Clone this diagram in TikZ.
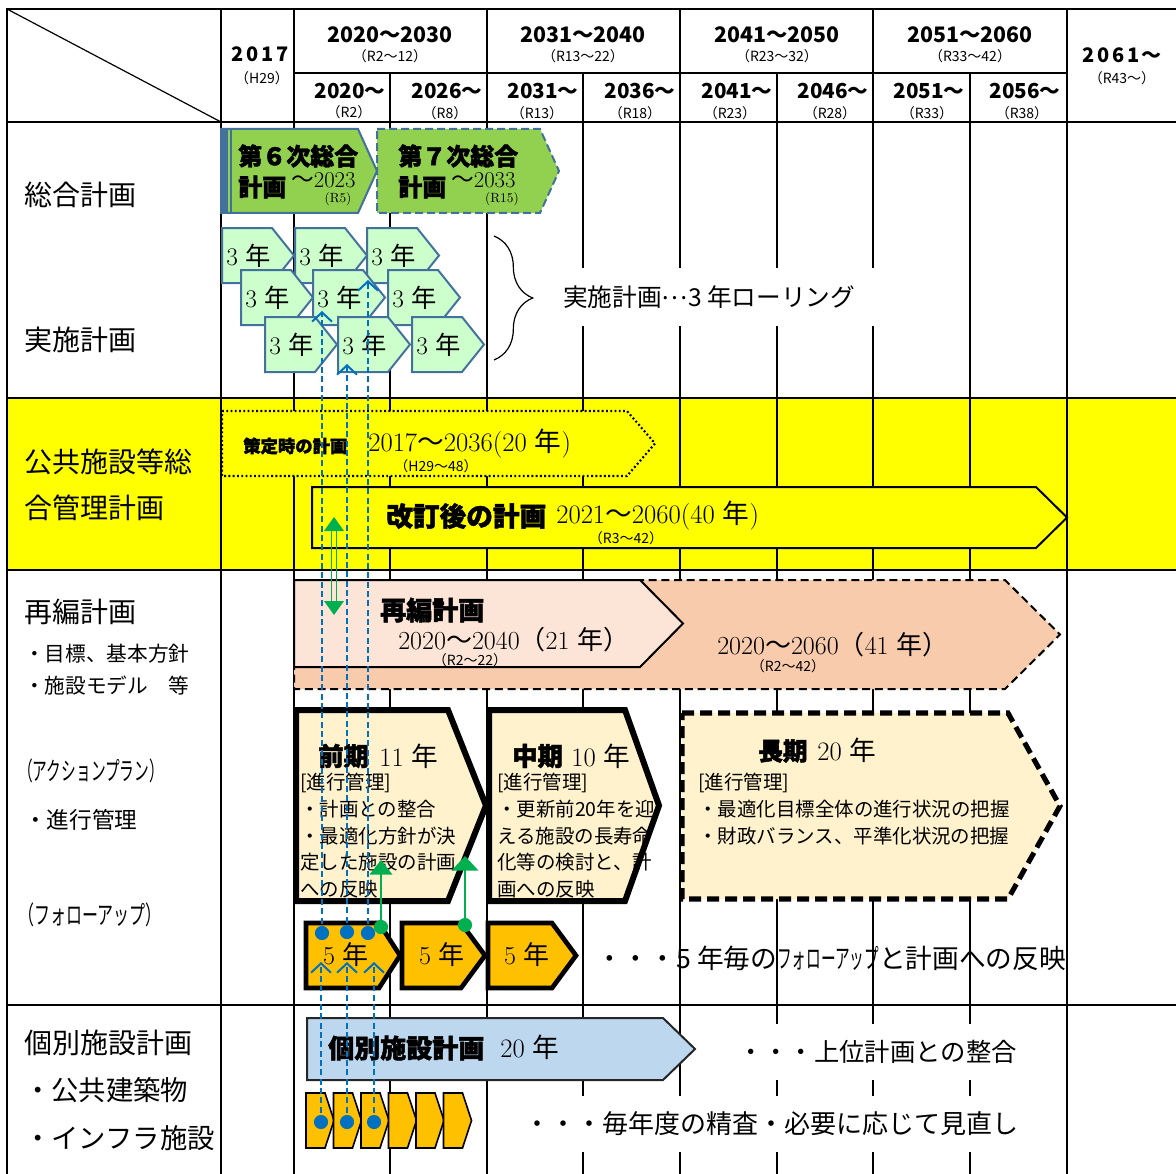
\documentclass[tikz,border=0pt]{standalone}
\usepackage{fontspec}
\usepackage{graphicx}
\newfontfamily\jp{Noto Sans CJK JP}
\newfontfamily\jph{Noto Sans CJK JP}[FakeBold=1.8]
\usetikzlibrary{arrows.meta,decorations.pathreplacing}
\definecolor{gfill}{HTML}{92D050}
\definecolor{bline}{HTML}{41719C}
\definecolor{lgreen}{HTML}{CCFFCC}
\definecolor{ylw}{HTML}{FFFF00}
\definecolor{peach}{HTML}{F8CBAD}
\definecolor{lpeach}{HTML}{FCE4D6}
\definecolor{cream}{HTML}{FFF2CC}
\definecolor{orng}{HTML}{FFC000}
\definecolor{lblue}{HTML}{BDD7EE}
\definecolor{dblue}{HTML}{0070C0}
\definecolor{grn}{HTML}{00B050}
\newcommand\fsz[2]{\fontsize{#1pt}{#2pt}\selectfont}
\newcommand\penta[6]{\path[#1] (#2,#3) -- (#4,#3) -- (#5,{(#3+#6)/2}) -- (#4,#6) -- (#2,#6) -- cycle;}
\newcommand\nen{{\jp 年}}
\newcommand\nami{{\jp ～}}
\tikzset{
  grid/.style={line width=1.5pt},
  thk/.style={line width=2.2pt},
  lbl/.style={anchor=west, inner sep=0pt, font=\jp\fsz{#1}{#1}},
  hb/.style={inner sep=0pt, font=\jp\bfseries\fsz{#1}{#1}},
  hs/.style={inner sep=0pt, font=\jp\fsz{10.5}{10.5}},
  hv/.style={anchor=west, inner sep=0pt, font=\jph\bfseries\fsz{#1}{#1}},
  sr/.style={anchor=west, inner sep=0pt, font=\fsz{#1}{#1}},
  sm/.style={inner sep=0pt, font=\fsz{#1}{#1}},
  body/.style={anchor=north west, inner sep=0pt, align=left, font=\jp\fsz{14.6}{20}},
  bdash/.style={dblue, line width=1.5pt, dash pattern=on 4.5pt off 2.5pt, -{Straight Barb[length=7pt,width=15pt,line width=1.5pt]}},
  garr/.style={grn, line width=1.5pt, -{Triangle[length=11pt,width=#1]}},
}
\begin{document}
\begin{tikzpicture}[x=0.75pt,y=-0.75pt]
\useasboundingbox (0,0) rectangle (1176,1173);
\clip (0,0) rectangle (1176,1173);
\fill[white] (0,0) rectangle (1176,1173);
\fill[ylw] (7,398) rectangle (1180,570);
% ---------- grid ----------
\foreach \x in {221,294,487,680,873,1067} \draw[grid] (\x,9) -- (\x,1180);
\foreach \x in {390,583,777,970} \draw[grid] (\x,73) -- (\x,1180);
\draw[grid] (7,9) -- (1180,9);
\draw[grid] (294,73) -- (1067,73);
\draw[grid] (7,122) -- (1180,122);
\draw[thk] (7,398) -- (1180,398);
\draw[thk] (7,570) -- (1180,570);
\draw[grid] (7,1005) -- (1180,1005);
\draw[thk] (7,8) -- (7,1180);
\draw[line width=0.9pt] (7,9) -- (221,122);
% ---------- header ----------
\node[hb=15] (y2017) at (260,54) {2\hspace{2pt}0\hspace{2pt}1\hspace{2pt}7};
\node[hs] (r2017) at (262,78) {（H29）};
\node[hb=16] (p1) at (390,35) {2020～2030};
\node[hs] (p1r) at (390,56) {（R2～12）};
\node[hb=15.5] (s1) at (350,91) {2020～};
\node[hs] (s1r) at (349,112) {（R2）};
\node[hb=15.5] (s2) at (447,91) {2026～};
\node[hs] (s2r) at (445,113) {（R8）};
\node[hb=16] (p2) at (583,35) {2031～2040};
\node[hs] (p2r) at (583,56) {（R13～22）};
\node[hb=15.5] (s3) at (543,91) {2031～};
\node[hs] (s3r) at (537,113) {（R13）};
\node[hb=15.5] (s4) at (640,91) {2036～};
\node[hs] (s4r) at (635,113) {（R18）};
\node[hb=16] (p3) at (777,35) {2041～2050};
\node[hs] (p3r) at (777,56) {（R23～32）};
\node[hb=15.5] (s5) at (737,91) {2041～};
\node[hs] (s5r) at (730,113) {（R23）};
\node[hb=15.5] (s6) at (833,91) {2046～};
\node[hs] (s6r) at (830,113) {（R28）};
\node[hb=16] (p4) at (970,35) {2051～2060};
\node[hs] (p4r) at (970,56) {（R33～42）};
\node[hb=15.5] (s7) at (929,91) {2051～};
\node[hs] (s7r) at (927,113) {（R33）};
\node[hb=15.5] (s8) at (1025,91) {2056～};
\node[hs] (s8r) at (1022,113) {（R38）};
\node[hb=15] (p5) at (1122,55) {2\hspace{2pt}0\hspace{2pt}6\hspace{2pt}1\hspace{1pt}～};
\node[hs] (p5r) at (1122,78) {（R43～）};
% ---------- left labels ----------
\node[lbl=21] (l1) at (24,195) {総合計画};
\node[lbl=21] (l2) at (24,340) {実施計画};
\node[lbl=21] (l3) at (24,462) {公共施設等総};
\node[lbl=21] (l4) at (24,508) {合管理計画};
\node[lbl=21] (l5) at (24,612) {再編計画};
\node[lbl=15.5] (l6) at (24,654) {・目標、基本方針};
\node[lbl=15.5] (l7) at (24,686) {・施設モデル　等};
\node[lbl=19] (l8) at (18,771) {\scalebox{0.58}[1]{（アクションプラン）}};
\node[lbl=17] (l9) at (24,820) {・進行管理};
\node[lbl=19] (l10) at (18,915) {\scalebox{0.63}[1]{（フォローアップ）}};
\node[lbl=21] (l11) at (24,1043) {個別施設計画};
\node[lbl=20.5] (l12) at (24,1090) {・公共建築物};
\node[lbl=20.5] (l13) at (24,1138) {・インフラ施設};
% ---------- 総合計画 ----------
\penta{fill=gfill, draw=bline, line width=1.5pt}{221}{129}{358}{377}{213}
\fill[bline] (221,129) rectangle (228,213);
\draw[bline, line width=1.5pt] (231,129) -- (231,213);
\penta{fill=gfill, draw=bline, line width=1.5pt, dash pattern=on 6pt off 3pt}{377}{129}{540}{559}{213}
\node[hv=18] (g6a) at (238,156) {第６次総合};
\node[hv=18] (g6b) at (238,187) {計画};
\node[sr=17] (g6c) at (291,180) {\nami 2023};
\node[sm=10] (g6d) at (338,199) {(R5)};
\node[hv=18] (g7a) at (398,156) {第７次総合};
\node[hv=18] (g7b) at (398,187) {計画};
\node[sr=17] (g7c) at (451,180) {\nami 2033};
\node[sm=10] (g7d) at (502,199) {(R15)};
% 3-year rolling
\foreach \xa/\ya in {222/228, 295/228, 367/228, 241/270, 313/270, 388/270, 265/317, 338/317, 412/317} {
  \penta{fill=lgreen, draw=bline, line width=1.5pt}{\xa}{\ya}{\xa+50}{\xa+72}{\ya+55}
  \node[sr=19] (t\xa) at (\xa+4,\ya+28) {3 \nen};
}
\draw[line width=0.9pt, decorate, decoration={brace, amplitude=29pt}] (494,236) -- (494,360);
\fill[white] (553,268) rectangle (882,326);
\node[lbl=18.5] (roll) at (563,297) {実施計画\raisebox{0.3em}{…}3 年ローリング};
% ---------- 公共施設等総合管理計画 ----------
\penta{fill=ylw, draw=black, line width=1.6pt, dash pattern=on 1.4pt off 1.8pt}{222}{411}{627}{655}{476}
\node[hv=13] (sak) at (243,446) {策定時の計画};
\node[sr=20] (saky) at (368,444) {2017\nami 2036(20 \nen)};
\node[hs] (sakr) at (436,466) {（H29～48）};
\penta{fill=ylw, draw=black, line width=1.5pt}{312}{487}{1036}{1067}{548}
\node[hv=20] (kai) at (386,516) {改訂後の計画};
\node[sr=20] (kaiy) at (556,516) {2021\nami 2060(40 \nen)};
\node[hs] (kair) at (626,538) {（R3～42）};
% ---------- 再編計画 ----------
\penta{fill=peach, draw=black, line width=1.5pt, dash pattern=on 6pt off 3.5pt}{294}{580}{1005}{1060}{689}
\penta{fill=lpeach, draw=black, line width=1.5pt}{294}{580}{640}{683}{667}
\node[hv=19.5] (sai) at (380,610) {再編計画};
\node[sr=19.5] (saiy) at (398,640) {2020\nami 2040{\jp（}21 \nen{\jp ）}};
\node[hs] (sair) at (470,660) {（R2～22）};
\node[sr=19.5] (saiy2) at (717,645) {2020\nami 2060{\jp（}41 \nen{\jp ）}};
\node[hs] (sair2) at (788,666) {（R2～42）};
% 前期・中期・長期
\penta{fill=cream, draw=black, line width=4.5pt, line join=miter}{296}{710}{448}{486}{901}
\penta{fill=cream, draw=black, line width=4.5pt, line join=miter}{489}{710}{625}{659}{901}
\penta{fill=cream, draw=black, line width=3.8pt, dash pattern=on 9pt off 4.5pt}{682}{713}{1008}{1060}{899}
\node[hv=19] (zen) at (318,756) {前期};
\node[sr=20] (zeny) at (379,756) {11 \nen};
\node[body] (zenb) at (300,773) {[進行管理]\\・計画との整合\\・最適化方針が決\\定した施設の計画\\への反映};
\node[hv=19] (chu) at (512,756) {中期};
\node[sr=20] (chuy) at (571,756) {10 \nen};
\node[body] (chub) at (497,773) {[進行管理]\\・更新前20年を迎\\える施設の長寿命\\化等の検討と、計\\画への反映};
\node[hv=18.5] (cho) at (758,751) {長期};
\node[sr=20] (choy) at (817,750) {20 \nen};
\node[body] (chob) at (698,773) {[進行管理]\\・最適化目標全体の進行状況の把握\\・財政バランス、平準化状況の把握};
% 5年 follow-up
\penta{fill=orng, draw=black, line width=3.5pt, line join=miter}{306}{923}{379}{400}{988}
\penta{fill=orng, draw=black, line width=3.5pt, line join=miter}{402}{923}{461}{485}{988}
\penta{fill=orng, draw=black, line width=3.5pt, line join=miter}{488}{923}{552}{576}{988}
\node[sm=19.5] (f1) at (346,955) {5 \nen};
\node[sm=19.5] (f2) at (442,955) {5 \nen};
\node[sm=19.5] (f3) at (527,955) {5 \nen};
\node[lbl=20] (fol) at (596,958) {・・・5 年毎の\scalebox{0.55}[1]{フォローアップ}と計画への反映};
% ---------- 個別施設計画 ----------
\penta{fill=lblue, draw=black!85, line width=1.5pt}{307}{1018}{663}{695}{1080}
\node[hv=19.5] (kob) at (328,1048) {個別施設計画};
\node[sr=20] (koby) at (500,1047) {20 \nen};
\fill[white] (712,1024) rectangle (1045,1080);
\node[lbl=19] (joi) at (738,1052) {・・・上位計画との整合};
\foreach \i in {0,...,5} {
  \penta{fill=orng, draw=black, line width=1.2pt}{306+27.5*\i}{1093}{306+27.5*\i+19}{306+27.5*\i+28}{1148}
}
\fill[white] (500,1096) rectangle (1045,1152);
\node[lbl=19.5] (mai) at (524,1124) {・・・毎年度の精査・必要に応じて見直し};
% ---------- connectors ----------
\coordinate (ud1) at (322,933); \coordinate (ut1) at (322,311);
\coordinate (ud2) at (347,932); \coordinate (ut2) at (347,364);
\coordinate (ud3) at (368,933); \coordinate (ut3) at (368,280);
\coordinate (ld1) at (321,1122); \coordinate (lt1) at (321,962);
\coordinate (ld2) at (347,1122); \coordinate (lt2) at (347,962);
\coordinate (ld3) at (374,1122); \coordinate (lt3) at (374,962);
\foreach \k in {1,2,3} {
  \draw[bdash] (ud\k) -- (ut\k);
  \draw[bdash] (ld\k) -- (lt\k);
}
\foreach \k in {1,2,3} {
  \fill[dblue] (ud\k) circle[radius=5.3pt];
  \fill[dblue] (ld\k) circle[radius=5.3pt];
}
\coordinate (gd1) at (381,927); \coordinate (gt1) at (381,860);
\coordinate (gd2) at (465,925); \coordinate (gt2) at (465,856);
\draw[garr=17pt] (gd1) -- (gt1);
\draw[garr=20pt] (gd2) -- (gt2);
\fill[grn] (gd1) circle[radius=5.3pt];
\fill[grn] (gd2) circle[radius=5.3pt];
\coordinate (ga) at (334,517); \coordinate (gb) at (334,615);
\draw[grn, line width=1.2pt] (331.5,528) -- (331.5,604);
\draw[grn, line width=1.2pt] (336.5,528) -- (336.5,604);
\fill[grn] (ga) -- ++(-10,14) -- ++(20,0) -- cycle;
\fill[grn] (gb) -- ++(-10,-14) -- ++(20,0) -- cycle;
\end{tikzpicture}
\end{document}
